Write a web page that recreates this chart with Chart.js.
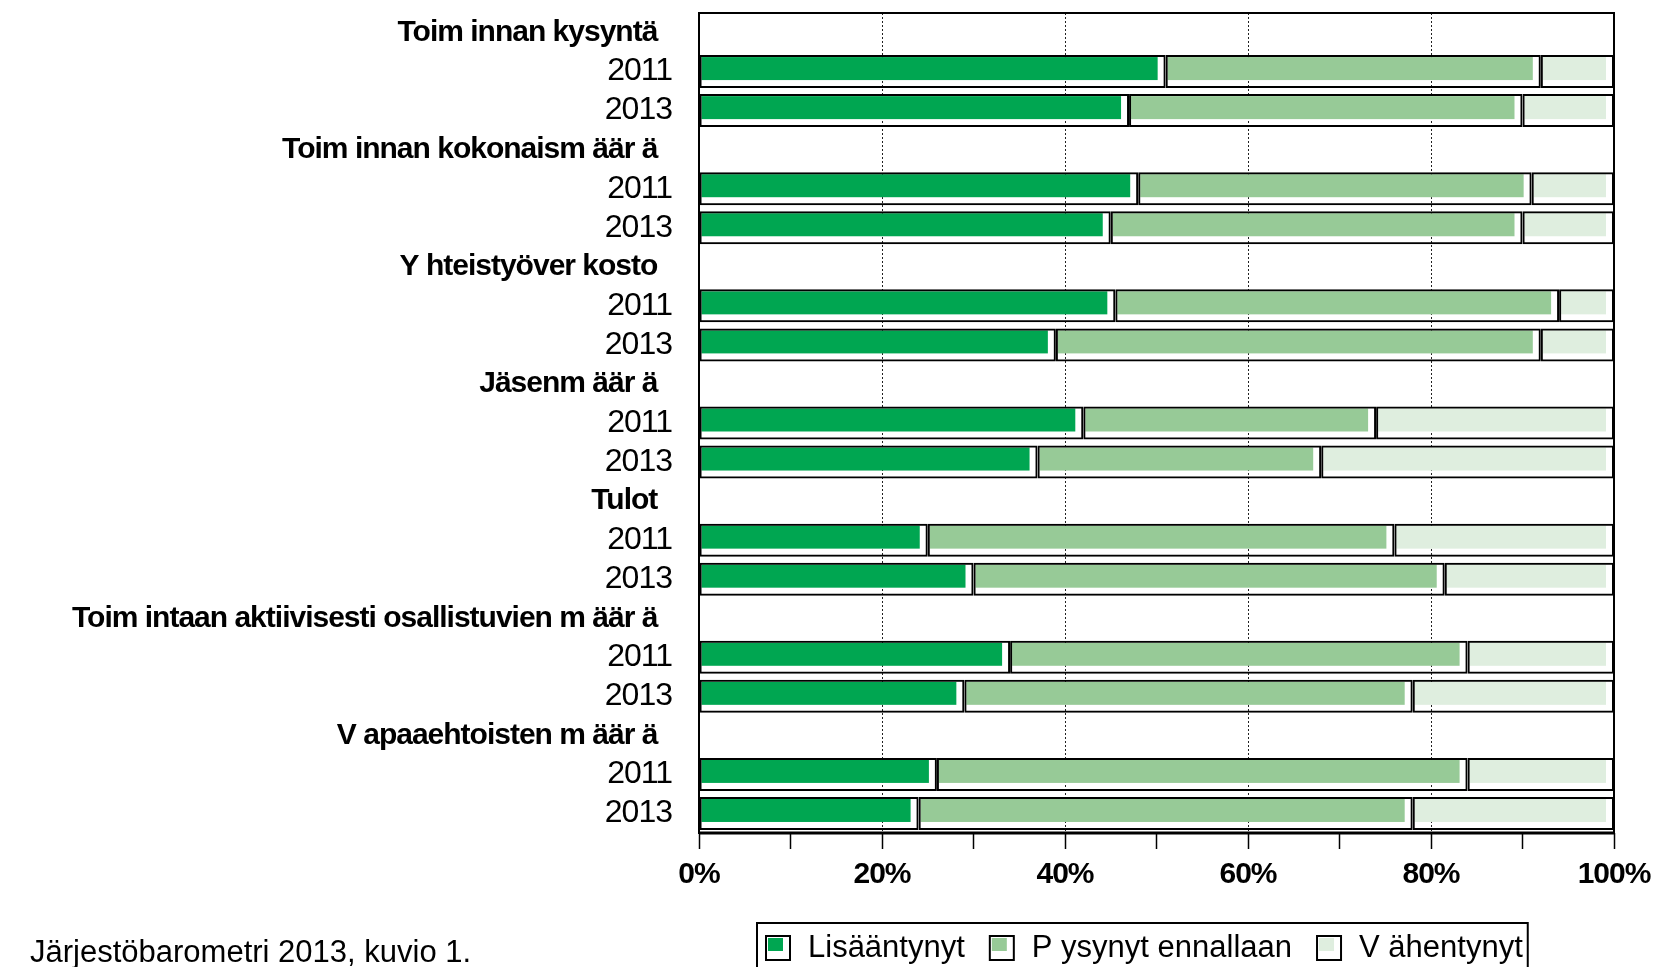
<!DOCTYPE html>
<html>
<head>
<meta charset="utf-8">
<script src="https://cdn.jsdelivr.net/npm/chart.js@4"></script>
<style>
  html, body { margin: 0; padding: 0; background: #fff; }
</style>
</head>
<body>
<canvas id="chart" width="1656" height="967"></canvas>
<script>
// group headings, as printed in the figure
const groups = [
  "Toim innan kysyntä",
  "Toim innan kokonaism äär ä",
  "Y hteistyöver kosto",
  "Jäsenm äär ä",
  "Tulot",
  "Toim intaan aktiivisesti osallistuvien m äär ä",
  "V apaaehtoisten m äär ä"
];
const years = ["2011", "2013"];

// shares in %, two values per group (2011, 2013)
const lisaantynyt = [51, 47, 48, 45, 45.5, 39, 42, 37, 25, 30, 34, 29, 26, 24];
const pysynyt = [41, 43, 43, 45, 48.5, 53, 32, 31, 51, 51.5, 50, 49, 58, 54];
const vahentynyt = [8, 10, 9, 10, 6, 8, 26, 32, 24, 18.5, 16, 22, 16, 22];

const seriesNames = ["Lisääntynyt", "P ysynyt ennallaan", "V ähentynyt"];
const seriesColors = ["#00a651", "#97ca97", "#dfeedf"];
const gridAt = [20, 40, 60, 80];
const sourceNote = "Järjestöbarometri 2013, kuvio 1.";

const FONT = "'Liberation Sans', Arial, sans-serif";

// one header row + one row per year for every group
const rowLabels = [];
groups.forEach(g => {
  rowLabels.push(g + "  ");
  years.forEach(y => rowLabels.push(y));
});
const toRows = vals => {
  const out = [];
  groups.forEach((g, i) => out.push(null, vals[2 * i], vals[2 * i + 1]));
  return out;
};

// coloured part of each segment sits in the top-left of the outlined box
const insetFill = {
  id: "insetFill",
  beforeDatasetsDraw(chart) {
    const ctx = chart.ctx;
    chart.data.datasets.forEach((ds, i) => {
      const meta = chart.getDatasetMeta(i);
      meta.data.forEach((bar, j) => {
        if (ds.data[j] == null) return;
        const p = bar.getProps(["x", "y", "base", "height"], true);
        const left = Math.min(p.x, p.base);
        const right = Math.max(p.x, p.base);
        const top = p.y - p.height / 2;
        ctx.fillStyle = ds.fillColor;
        ctx.fillRect(left + 2, top + 2, right - left - 10, p.height - 10);
      });
    });
  }
};

// frame, legend box and the source line
const extras = {
  id: "extras",
  beforeDraw(chart) {
    chart.ctx.letterSpacing = "-1px";
  },
  afterDraw(chart) {
    const ctx = chart.ctx;
    const a = chart.chartArea;
    ctx.save();
    ctx.letterSpacing = "0px";
    ctx.strokeStyle = "#000";
    ctx.lineWidth = 2;
    ctx.strokeRect(a.left, a.top, a.right - a.left, a.bottom - a.top);
    ctx.lineWidth = 3;
    ctx.beginPath();
    ctx.moveTo(a.left, a.bottom);
    ctx.lineTo(a.right + 1, a.bottom);
    ctx.stroke();

    // legend
    ctx.font = "31px " + FONT;
    ctx.textBaseline = "middle";
    ctx.textAlign = "left";
    let x = 766;
    const cy = 948;
    const boxLeft = 757;
    chart.data.datasets.forEach((ds, i) => {
      ctx.fillStyle = "#fff";
      ctx.fillRect(x, cy - 12, 24, 24);
      ctx.fillStyle = ds.fillColor;
      ctx.fillRect(x + 2, cy - 10, 15, 13);
      ctx.lineWidth = 2;
      ctx.strokeRect(x, cy - 12, 24, 24);
      ctx.fillStyle = "#000";
      ctx.fillText(ds.label, x + 42, cy);
      x += 42 + ctx.measureText(ds.label).width + 25;
    });
    ctx.lineWidth = 2;
    ctx.strokeRect(boxLeft, 923, x - 25 + 5 - boxLeft, 70);

    ctx.font = "31px " + FONT;
    ctx.textBaseline = "alphabetic";
    ctx.fillText(sourceNote, 30, 962);
    ctx.restore();
    ctx.letterSpacing = "0px";
  }
};

new Chart(document.getElementById("chart"), {
  type: "bar",
  data: {
    labels: rowLabels,
    datasets: [lisaantynyt, pysynyt, vahentynyt].map((vals, i) => ({
      label: seriesNames[i],
      data: toRows(vals),
      fillColor: seriesColors[i],
      backgroundColor: "rgba(0,0,0,0)",
      borderColor: "#000",
      borderWidth: 2,
      borderSkipped: false,
      barPercentage: 0.845,
      categoryPercentage: 1
    }))
  },
  options: {
    indexAxis: "y",
    responsive: false,
    animation: false,
    devicePixelRatio: 1,
    layout: { padding: { left: 0, right: 42, top: 13, bottom: 74 } },
    plugins: { legend: { display: false }, tooltip: { enabled: false } },
    scales: {
      x: {
        stacked: true,
        min: 0,
        max: 100,
        ticks: {
          stepSize: 10,
          autoSkip: false,
          maxRotation: 0,
          padding: 8,
          color: "#000",
          font: { family: FONT, size: 30, weight: "bold" },
          callback: v => (v % 20 === 0 ? v + "%" : "")
        },
        grid: {
          color: c => (c.tick && gridAt.includes(c.tick.value) ? "#222" : "rgba(0,0,0,0)"),
          lineWidth: 1,
          tickColor: "#000",
          tickLength: 16,
          tickWidth: 1.5,
          tickBorderDash: []
        },
        border: { display: false, dash: [2, 2] },
        afterFit: s => {
          s.height = 60;
          s.paddingLeft = 0;
          s.paddingRight = 0;
        }
      },
      y: {
        stacked: true,
        grid: { display: false },
        border: { display: false },
        ticks: {
          autoSkip: false,
          padding: 19,
          color: "#000",
          font: c => (c.index % 3 === 0
            ? { family: FONT, size: 30, weight: "bold" }
            : { family: FONT, size: 32 })
        },
        afterFit: s => {
          s.width = 699;
          s.paddingTop = 0;
          s.paddingBottom = 0;
        }
      }
    }
  },
  plugins: [insetFill, extras]
});
</script>
</body>
</html>
